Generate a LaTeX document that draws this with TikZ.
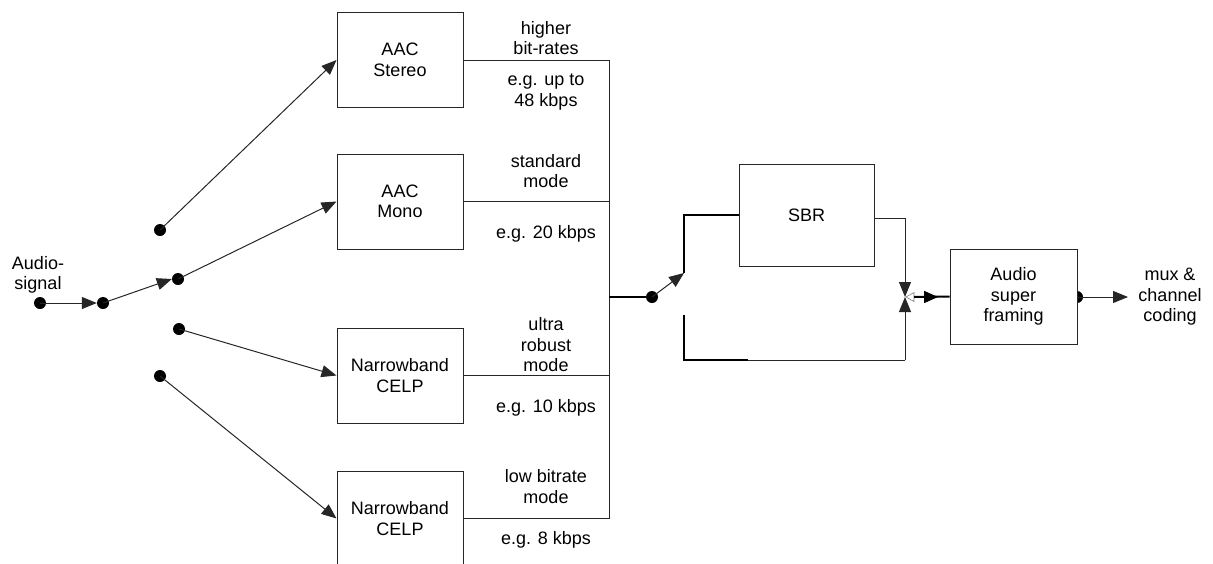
\documentclass[tikz,border=0pt]{standalone}
\usepackage{fontspec}
\setmainfont{Liberation Sans}
\usetikzlibrary{arrows.meta,calc}
\begin{document}
\begin{tikzpicture}[x=1pt,y=-1pt,
  every node/.style={font=\fontsize{18}{20.5}\selectfont, align=center, inner sep=0pt},
  blk/.style={draw=black!85, line width=1pt, fill=white, minimum width=126pt, minimum height=95pt},
  wire/.style={draw=black!85, line width=1pt},
  thickwire/.style={draw=black, line width=2pt},
  arr/.style={wire, -{Triangle[length=15pt,width=12pt]}},
  dotc/.style={circle, fill=black, minimum size=12pt, inner sep=0pt}]
\useasboundingbox (0,0) rectangle (1213,563);

% output dot (under box)
\node[dotc] (od) at (1077,297) {};

% boxes
\node[blk] (ste) at (400,60) {AAC\\Stereo};
\node[blk] (mono) at (400,201.5) {AAC\\Mono};
\node[blk] (nb1) at (400,375.5) {Narrowband\\CELP};
\node[blk] (nb2) at (400,518.5) {Narrowband\\CELP};
\node[blk, minimum width=135pt, minimum height=102pt] (sbr) at (806.5,215) {SBR};
\node[blk, minimum width=127pt] (asf) at (1013.5,296.5) {Audio\\super\\framing};

% labels
\node (ain) at (38,275) {Audio-\\signal};
\node (l1) at (546,38) {higher\\bit-rates};
\node (l2) at (546,92) {e.g. up to\\48 kbps};
\node (l3) at (546,171) {standard\\mode};
\node (l4) at (546,234) {e.g. 20 kbps};
\node (l5) at (546,345) {ultra\\robust\\mode};
\node (l6) at (546,408) {e.g. 10 kbps};
\node (l7) at (546,486.5) {low bitrate\\mode};
\node (l8) at (546,540) {e.g. 8 kbps};
\node (mux) at (1170,297) {mux \&\\channel\\coding};

% input switch
\node[dotc] (in) at (40,303) {};
\node[dotc] (sw) at (103,303) {};
\node[dotc] (d1) at (160,230) {};
\node[dotc] (d2) at (178,279) {};
\node[dotc] (d3) at (179,329) {};
\node[dotc] (d4) at (160,376) {};
\draw[arr] (in.center) -- (sw.west);
\draw[arr] (sw.center) -- (d2.west);
\draw[arr] (d1.center) -- (ste.west);
\draw[arr] (d2.center) -- (mono.west);
\draw[arr] (d3.center) -- (nb1.west);
\draw[arr] (d4.center) -- (nb2.west);

% output bus
\coordinate (bt) at (609,60);
\coordinate (bb) at (609,518.5);
\coordinate (bj) at (609,297);
\draw[wire] (ste.east) -- (bt) -- (bb) -- (nb2.east);
\draw[wire] (mono.east) -- (mono.east -| bt);
\draw[wire] (nb1.east) -- (nb1.east -| bt);

% SBR switch
\node[dotc] (sd) at (652,297) {};
\coordinate (sa) at (684,273);
\coordinate (sb) at (684,315);
\coordinate (junc) at (905,297);
\draw[thickwire] (bj) -- (sd.center);
\draw[arr] (sd.center) -- (sa);
\draw[thickwire] (sa) -- (684,215) -- (sbr.west);
\draw[thickwire] (sb) -- (684,360) -- (748,360);
\draw[wire] (748,360) -- (905,360);
\draw[arr] (905,360) -- (junc);
\draw[wire] (sbr.east) ++(0,3) -- (905,218);
\draw[arr] (905,218) -- (junc);

% small open tip at junction
\draw[black!50, line width=0.6pt] (906,297) -- (914,292.5) -- (914,301.5) -- cycle;

% to super framing
\draw[thickwire] (914,297) -- (asf.west);
\draw[arr, draw=black, line width=1.5pt, -{Triangle[length=14pt,width=12pt]}] (914,297) -- (938,297);

% output
\draw[arr] (od.center) -- (1128,297);
\end{tikzpicture}
\end{document}
